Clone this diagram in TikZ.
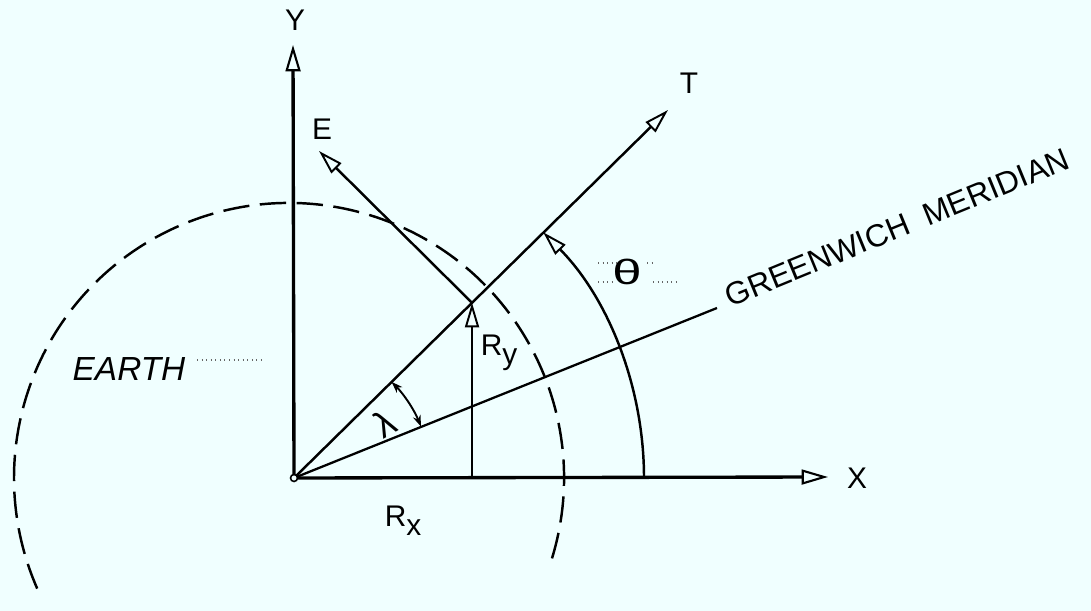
\documentclass[tikz,border=0pt]{standalone}
\usepackage{fontspec}
\setmainfont{Liberation Sans}
\usetikzlibrary{arrows.meta,calc}
\definecolor{bgc}{RGB}{240,255,255}
\begin{document}
\begin{tikzpicture}[x=0.02cm,y=0.02cm,
  axis/.style={line width=1.9pt,-{Triangle[open,length=15pt,width=8.5pt,line width=1.2pt]}},
  vec/.style={line width=1.4pt,-{Triangle[open,length=14pt,width=8pt,line width=1.1pt]}},
  plainline/.style={line width=1.3pt},
  lamarrow/.style={line width=1.1pt,{Stealth[length=6.5pt,width=4.5pt]}-{Stealth[length=6.5pt,width=4.5pt]}},
  earth/.style={line width=1.4pt,dash pattern=on 15pt off 6pt},
  leader/.style={line width=0.6pt,dotted,black!60},
  lbl/.style={font=\fontsize{17}{20}\selectfont,inner sep=0pt}
]
\fill[bgc] (0,0) rectangle (1091,611);
\useasboundingbox (0,0) rectangle (1091,611);

% points
\coordinate (O) at (294,133);
\coordinate (ytip) at (293,566);
\coordinate (xtip) at (828,134);
\coordinate (ttip) at (668,501);
\coordinate (P) at ($(O)!0.476!(ttip)$);
\coordinate (F) at (P |- O);
\coordinate (etip) at (319,460);
\coordinate (mend) at (717,303);
\coordinate (EC) at (289,133);

% earth
\draw[earth] ($(EC)+(-17:275)$) arc[start angle=-17,end angle=205.5,radius=275];

% axes and vectors
\draw[axis] (O) -- (ytip);
\draw[axis] (O) -- (xtip);
\draw[vec] (O) -- (ttip);
\draw[plainline] (O) -- (mend);
\draw[vec] (F) -- (P);
\draw[vec] (P) -- (etip);
\draw[vec] ($(O)+(350,0)$) arc[start angle=0,end angle=44.6,radius=350];
\draw[lamarrow] ($(O)+(22:137)$) arc[start angle=22,end angle=44.6,radius=137];
\filldraw[fill=bgc,line width=0.9pt] (O) circle[radius=3.5];

% labels
\node[lbl] (ylab) at (295,591) {Y};
\node[lbl] (xlab) at (857,133) {X};
\node[lbl] (tlab) at (689,528) {T};
\node[lbl] (elab) at (322,482) {E};
\node[lbl,font=\fontsize{19}{22}\selectfont\itshape] (earthlab) at (129,242) {EARTH};
\node[lbl] (rylab) at (499,258) {R\raisebox{-0.55ex}{y}};
\node[lbl] (rxlab) at (403,90) {R\raisebox{-0.55ex}{x}};
\node[lbl,font=\fontsize{20}{22}\selectfont] (thlab) at (627,339) {\scalebox{1.5}[1]{θ}};
\node[lbl,font=\fontsize{21}{24}\selectfont,rotate=30] (lamlab) at (385,188) {λ};
\node[lbl,font=\fontsize{18}{22}\selectfont,anchor=base west,rotate=22.3] (gm) at (730,303) {GREENWICH\ \ MERIDIAN};

% leader marks
\draw[leader] (197,251) -- (265,251);
\draw[leader] (598,348) -- (617,348);
\draw[leader] (647,348) -- (653,348);
\draw[leader] (598,329) -- (612,329);
\draw[leader] (653,329) -- (678,329);
\end{tikzpicture}
\end{document}
